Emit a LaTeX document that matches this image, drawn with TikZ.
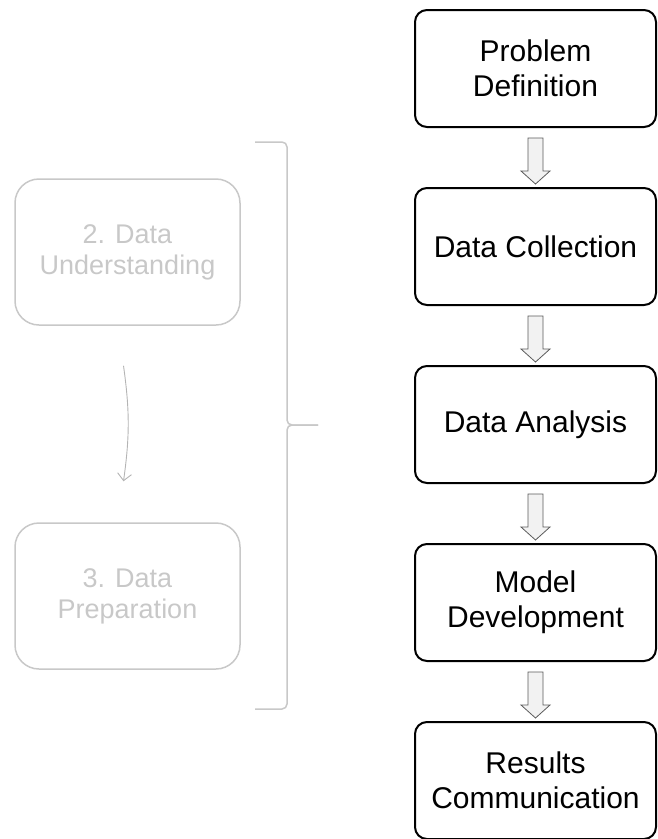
\documentclass[tikz,border=0pt]{standalone}
\usepackage{fontspec}
\setmainfont{Liberation Sans}
\usetikzlibrary{calc,arrows.meta}

\definecolor{fadegray}{RGB}{200,200,200}
\definecolor{arrowfill}{RGB}{242,242,242}
\definecolor{arrowline}{RGB}{90,90,90}

\tikzset{
  stepbox/.style={draw, line width=2pt, rounded corners=12pt,
    minimum width=241pt, minimum height=117pt, align=center,
    font=\fontsize{30}{35}\selectfont},
  fadebox/.style={draw=fadegray, text=fadegray, line width=1.5pt, rounded corners=24pt,
    minimum width=225pt, minimum height=146pt, align=center,
    font=\fontsize{27}{31}\selectfont},
  blockarrow/.style={draw=arrowline, fill=arrowfill, line width=0.8pt},
  fadearrow/.style={draw=fadegray!90!black, line width=0.9pt, -{Straight Barb[length=7pt,width=14pt]}},
  bracket/.style={draw=fadegray, line width=1.5pt, rounded corners=5pt}
}

\begin{document}
\begin{tikzpicture}[x=1pt, y=-1pt]
    \useasboundingbox (0,0) rectangle (657,839);

    \node[stepbox] (pd) at (535.5, 68.5) {Problem\\Definition};
    \node[stepbox] (dc) at (535.5,246.5) {Data Collection};
    \node[stepbox] (da) at (535.5,424.5) {Data Analysis};
    \node[stepbox] (md) at (535.5,602.5) {Model\\Development};
    \node[stepbox] (rc) at (535.5,780.5) {Results\\Communication};

    \draw[blockarrow] ($(pd.south)+(-7.5,10)$) -- ++(15,0) -- ++(0,33) -- ++(7,0) -- ++(-14.5,13) -- ++(-14.5,-13) -- ++(7,0) -- cycle;
    \draw[blockarrow] ($(dc.south)+(-7.5,10)$) -- ++(15,0) -- ++(0,33) -- ++(7,0) -- ++(-14.5,13) -- ++(-14.5,-13) -- ++(7,0) -- cycle;
    \draw[blockarrow] ($(da.south)+(-7.5,10)$) -- ++(15,0) -- ++(0,33) -- ++(7,0) -- ++(-14.5,13) -- ++(-14.5,-13) -- ++(7,0) -- cycle;
    \draw[blockarrow] ($(md.south)+(-7.5,10)$) -- ++(15,0) -- ++(0,33) -- ++(7,0) -- ++(-14.5,13) -- ++(-14.5,-13) -- ++(7,0) -- cycle;

    \node[fadebox] (du) at (127.5,252) {2. Data\\Understanding};
    \node[fadebox] (dp) at (127.5,596) {3. Data\\Preparation};

    \draw[fadearrow] ($(du.south)+(-4,40)$) to[bend left=8] ($(dp.north)+(-4,-41)$);

    \draw[bracket] (255,142) -- (287,142) -- (287,425) -- (318,425);
    \draw[bracket] (255,709) -- (287,709) -- (287,425) -- (318,425);
\end{tikzpicture}
\end{document}
